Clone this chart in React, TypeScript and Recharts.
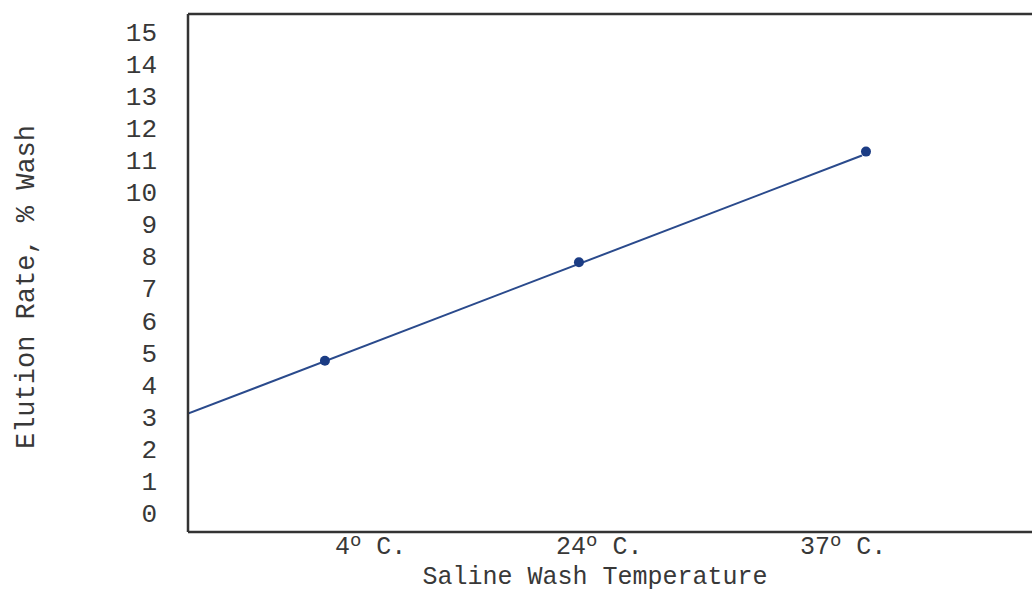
import {
  ComposedChart,
  Line,
  ReferenceLine,
  Scatter,
  XAxis,
  YAxis,
} from "recharts";

// Temperatures of the saline wash (x categories)
const TEMPS = ["4", "24", "37"];
// where each measured point sits along the x axis (arbitrary units, as typed in the original)
const POINT_POS = [1, 2, 3.13];
// where the typed tick labels sit
const LABEL_POS = [1.18, 2.08, 3.04];
// elution rate, % wash
const ELUTION = [4.74, 7.81, 11.26];
// hand-drawn fit line, two ends
const FIT_X = [0.461, 3.114];
const FIT_Y = [3.09, 11.14];
const Y_TICKS = [0, 1, 2, 3, 4, 5, 6, 7, 8, 9, 10, 11, 12, 13, 14, 15];

const X_DOMAIN: [number, number] = [0.461, 3.815];
const Y_DOMAIN: [number, number] = [-0.6, 15.55];

const FONT = "'Liberation Mono', 'DejaVu Sans Mono', monospace";
const INK = "#383838";
const BLUE = "#2a4a8c";

const points = TEMPS.map((t, i) => ({ x: POINT_POS[i], y: ELUTION[i], t }));
const fit = FIT_X.map((x, i) => ({ x, y: FIT_Y[i] }));

function TempTick(props: any) {
  const { x, y, index } = props;
  const t = TEMPS[index] ?? "";
  return (
    <text
      x={x}
      y={y + 22}
      textAnchor="middle"
      fontFamily={FONT}
      fontSize={25}
      fill={INK}
    >
      <tspan>{t}</tspan>
      <tspan dy={-8} fontSize={19}>
        o
      </tspan>
      <tspan dy={8}> C.</tspan>
    </text>
  );
}

export default function App() {
  return (
    <div
      style={{
        position: "absolute",
        left: 0,
        top: 0,
        width: 1032,
        height: 593,
        overflow: "hidden",
        background: "#fff",
      }}
    >
      <ComposedChart
        width={1040}
        height={593}
        margin={{ top: 14, right: 0, left: 0, bottom: 0 }}
      >
        <XAxis
          type="number"
          dataKey="x"
          domain={X_DOMAIN}
          ticks={LABEL_POS}
          tick={<TempTick />}
          tickSize={0}
          tickMargin={0}
          height={61}
          interval={0}
          allowDataOverflow
          axisLine={{ stroke: "#333", strokeWidth: 2.5 }}
          label={{
            content: ({ viewBox }: any) => (
              <text
                x={viewBox.x + 407}
                y={584}
                textAnchor="middle"
                fontFamily={FONT}
                fontSize={25}
                fill={INK}
              >
                Saline Wash Temperature
              </text>
            ),
          }}
        />
        <YAxis
          type="number"
          dataKey="y"
          domain={Y_DOMAIN}
          ticks={Y_TICKS}
          interval={0}
          width={188}
          tickSize={0}
          tickMargin={31}
          allowDataOverflow
          tick={{ fontFamily: FONT, fontSize: 26, fill: INK }}
          axisLine={{ stroke: "#333", strokeWidth: 2.5 }}
          label={{
            content: () => (
              <text
                x={27}
                y={287}
                transform="rotate(-90 27 287)"
                textAnchor="middle"
                dominantBaseline="central"
                fontFamily={FONT}
                fontSize={27}
                fill={INK}
              >
                Elution Rate, % Wash
              </text>
            ),
          }}
        />
        <ReferenceLine y={Y_DOMAIN[1]} stroke="#333" strokeWidth={2.5} />
        <Line
          data={fit}
          dataKey="y"
          type="linear"
          stroke={BLUE}
          strokeWidth={2}
          dot={false}
          activeDot={false}
          isAnimationActive={false}
        />
        <Scatter
          data={points}
          dataKey="y"
          fill="#1b3c84"
          shape={(p: any) => <circle cx={p.cx} cy={p.cy} r={5} fill="#1b3c84" />}
          isAnimationActive={false}
        />
      </ComposedChart>
    </div>
  );
}
